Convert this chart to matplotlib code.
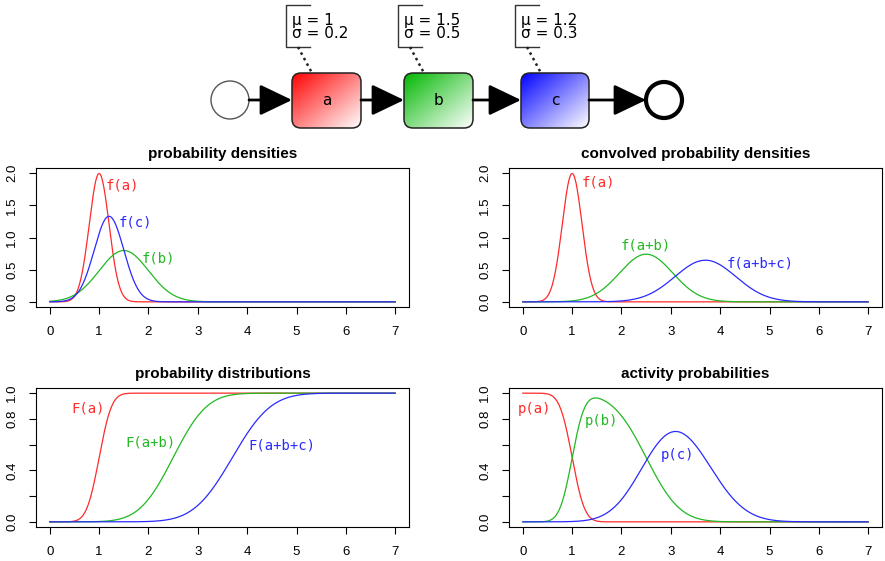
import math

import matplotlib
matplotlib.use("Agg", force=True)
import matplotlib.pyplot as plt
import numpy as np
from matplotlib.patches import Circle, FancyBboxPatch

W, H = 885, 561

# process parameters (from the diagram annotations)
TASKS = ["a", "b", "c"]
MUS = [1.0, 1.5, 1.2]
SIGMAS = [0.2, 0.5, 0.3]
TASK_COLORS = [(1.0, 0.0, 0.0), (0.0, 0.72, 0.0), (0.0, 0.0, 1.0)]

RED = "#ff2a2a"
GREEN = "#22b822"
BLUE = "#2a2aff"
LINE_COLORS = [RED, GREEN, BLUE]

X_MAX = 7.0

plt.rcParams.update({
    "font.family": "Liberation Sans",
    "font.size": 9.5,
    "axes.linewidth": 0.8,
    "xtick.major.size": 5.2,
    "ytick.major.size": 5.2,
    "xtick.major.width": 0.8,
    "ytick.major.width": 0.8,
})

_erf = np.vectorize(math.erf)


def dnorm(x, mu, sd):
    return np.exp(-0.5 * ((x - mu) / sd) ** 2) / (sd * math.sqrt(2 * math.pi))


def pnorm(x, mu, sd):
    return 0.5 * (1 + _erf((x - mu) / (sd * math.sqrt(2))))


def px_rect(l, t, r, b):
    return [l / W, 1 - b / H, (r - l) / W, (b - t) / H]


fig = plt.figure(figsize=(W / 100, H / 100), dpi=100)

# ----------------------------------------------------------------------------
# process diagram
# ----------------------------------------------------------------------------
DH = 132
dax = fig.add_axes([0, 1 - DH / H, 1, DH / H])
dax.set_xlim(0, W)
dax.set_ylim(DH, 0)
dax.axis("off")

cy = 100
task_x = [(292, 361), (404, 473), (521, 589)]
box_top, box_bot = 73, 128

dax.add_patch(Circle((230, cy), 19, facecolor="white", edgecolor="#555555", lw=1.0))
dax.add_patch(Circle((664, cy), 18, facecolor="white", edgecolor="black", lw=3.0))

ny, nx = 60, 80
yy, xx = np.mgrid[0:1:ny * 1j, 0:1:nx * 1j]
tt = np.clip((xx + yy) / 2, 0, 1)[..., None]

for (x0, x1), name, col, mu, sd in zip(task_x, TASKS, TASK_COLORS, MUS, SIGMAS):
    patch = FancyBboxPatch((x0, box_top), x1 - x0, box_bot - box_top,
                           boxstyle="round,pad=0,rounding_size=9",
                           facecolor="none", edgecolor="#222222", lw=1.1, zorder=3)
    dax.add_patch(patch)
    grad = np.array(col)[None, None, :] * (1 - tt) + tt
    im = dax.imshow(grad, extent=(x0, x1, box_bot, box_top), origin="upper",
                    aspect="auto", zorder=2, interpolation="bilinear")
    im.set_clip_path(patch)
    dax.text((x0 + x1) / 2, cy, name, ha="center", va="center",
             fontsize=11, family="DejaVu Sans", zorder=4)

    # annotation bracket
    bx = x0 - 6
    dax.plot([bx + 24, bx, bx, bx + 24], [5, 5, 47, 47], color="#333333", lw=1.0)
    dax.plot([bx + 12, bx + 26], [47, box_top], color="#222222", lw=1.8,
             linestyle=(0, (1, 1.5)))
    dax.text(bx + 6, 20, f"\u03bc = {mu:g}", ha="left", va="center",
             fontsize=11, family="DejaVu Sans")
    dax.text(bx + 6, 34, f"\u03c3 = {sd:g}", ha="left", va="center",
             fontsize=11, family="DejaVu Sans")

flow = [(249, 292), (361, 404), (473, 521), (589, 646)]
for xa, xb in flow:
    dax.annotate("", xy=(xb, cy), xytext=(xa, cy),
                 arrowprops=dict(arrowstyle="-|>,head_length=1.0,head_width=0.48",
                                 mutation_scale=20, lw=2.0, color="black",
                                 shrinkA=0, shrinkB=0))

# ----------------------------------------------------------------------------
# curves
# ----------------------------------------------------------------------------
x = np.linspace(0, X_MAX, 701)
mu_ab = MUS[0] + MUS[1]
sd_ab = math.sqrt(SIGMAS[0] ** 2 + SIGMAS[1] ** 2)
mu_abc = mu_ab + MUS[2]
sd_abc = math.sqrt(sd_ab ** 2 + SIGMAS[2] ** 2)

f_single = [dnorm(x, m, s) for m, s in zip(MUS, SIGMAS)]
f_conv = [dnorm(x, MUS[0], SIGMAS[0]), dnorm(x, mu_ab, sd_ab), dnorm(x, mu_abc, sd_abc)]
F_conv = [pnorm(x, MUS[0], SIGMAS[0]), pnorm(x, mu_ab, sd_ab), pnorm(x, mu_abc, sd_abc)]
p_act = [1 - F_conv[0], F_conv[0] - F_conv[1], F_conv[1] - F_conv[2]]

panels = [
    ("probability densities", (36, 168, 409, 307), f_single,
     ["f(a)", "f(b)", "f(c)"], [(1.47, 1.81), (2.2, 0.68), (1.74, 1.24)], "dens"),
    ("convolved probability densities", (509, 168, 882, 307), f_conv,
     ["f(a)", "f(a+b)", "f(a+b+c)"], [(1.54, 1.86), (2.5, 0.87), (4.81, 0.60)], "dens"),
    ("probability distributions", (36, 388, 409, 527), F_conv,
     ["F(a)", "F(a+b)", "F(a+b+c)"], [(0.78, 0.88), (2.04, 0.62), (4.71, 0.59)], "prob"),
    ("activity probabilities", (509, 388, 882, 527), p_act,
     ["p(a)", "p(b)", "p(c)"], [(0.24, 0.875), (1.6, 0.78), (3.13, 0.52)], "prob"),
]

for title, rect, curves, labels, label_pos, kind in panels:
    ax = fig.add_axes(px_rect(*rect))
    for y, col in zip(curves, LINE_COLORS):
        ax.plot(x, y, color=col, lw=0.9)
    for lab, (lx, ly), col in zip(labels, label_pos, LINE_COLORS):
        ax.text(lx, ly, lab, color=col, ha="center", va="center",
                fontsize=10, family="DejaVu Sans Mono")
    ax.set_xlim(-0.04 * X_MAX, 1.04 * X_MAX)
    ax.set_xticks(range(8))
    if kind == "dens":
        ax.set_ylim(-0.08, 2.08)
        ax.set_yticks([0, 0.5, 1.0, 1.5, 2.0])
        ax.set_yticklabels(["0.0", "0.5", "1.0", "1.5", "2.0"])
    else:
        ax.set_ylim(-0.04, 1.04)
        ax.set_yticks([0, 0.2, 0.4, 0.6, 0.8, 1.0])
        ax.set_yticklabels(["0.0", "", "0.4", "", "0.8", "1.0"])
    ax.tick_params(axis="x", labelsize=9.5, pad=8.5)
    ax.tick_params(axis="y", labelsize=9.5, pad=7.5)
    for lab in ax.get_yticklabels():
        lab.set_rotation(90)
        lab.set_va("center")
    ax.set_title(title, fontsize=11, fontweight="bold", pad=7)

fig.savefig("out.png", dpi=100)
